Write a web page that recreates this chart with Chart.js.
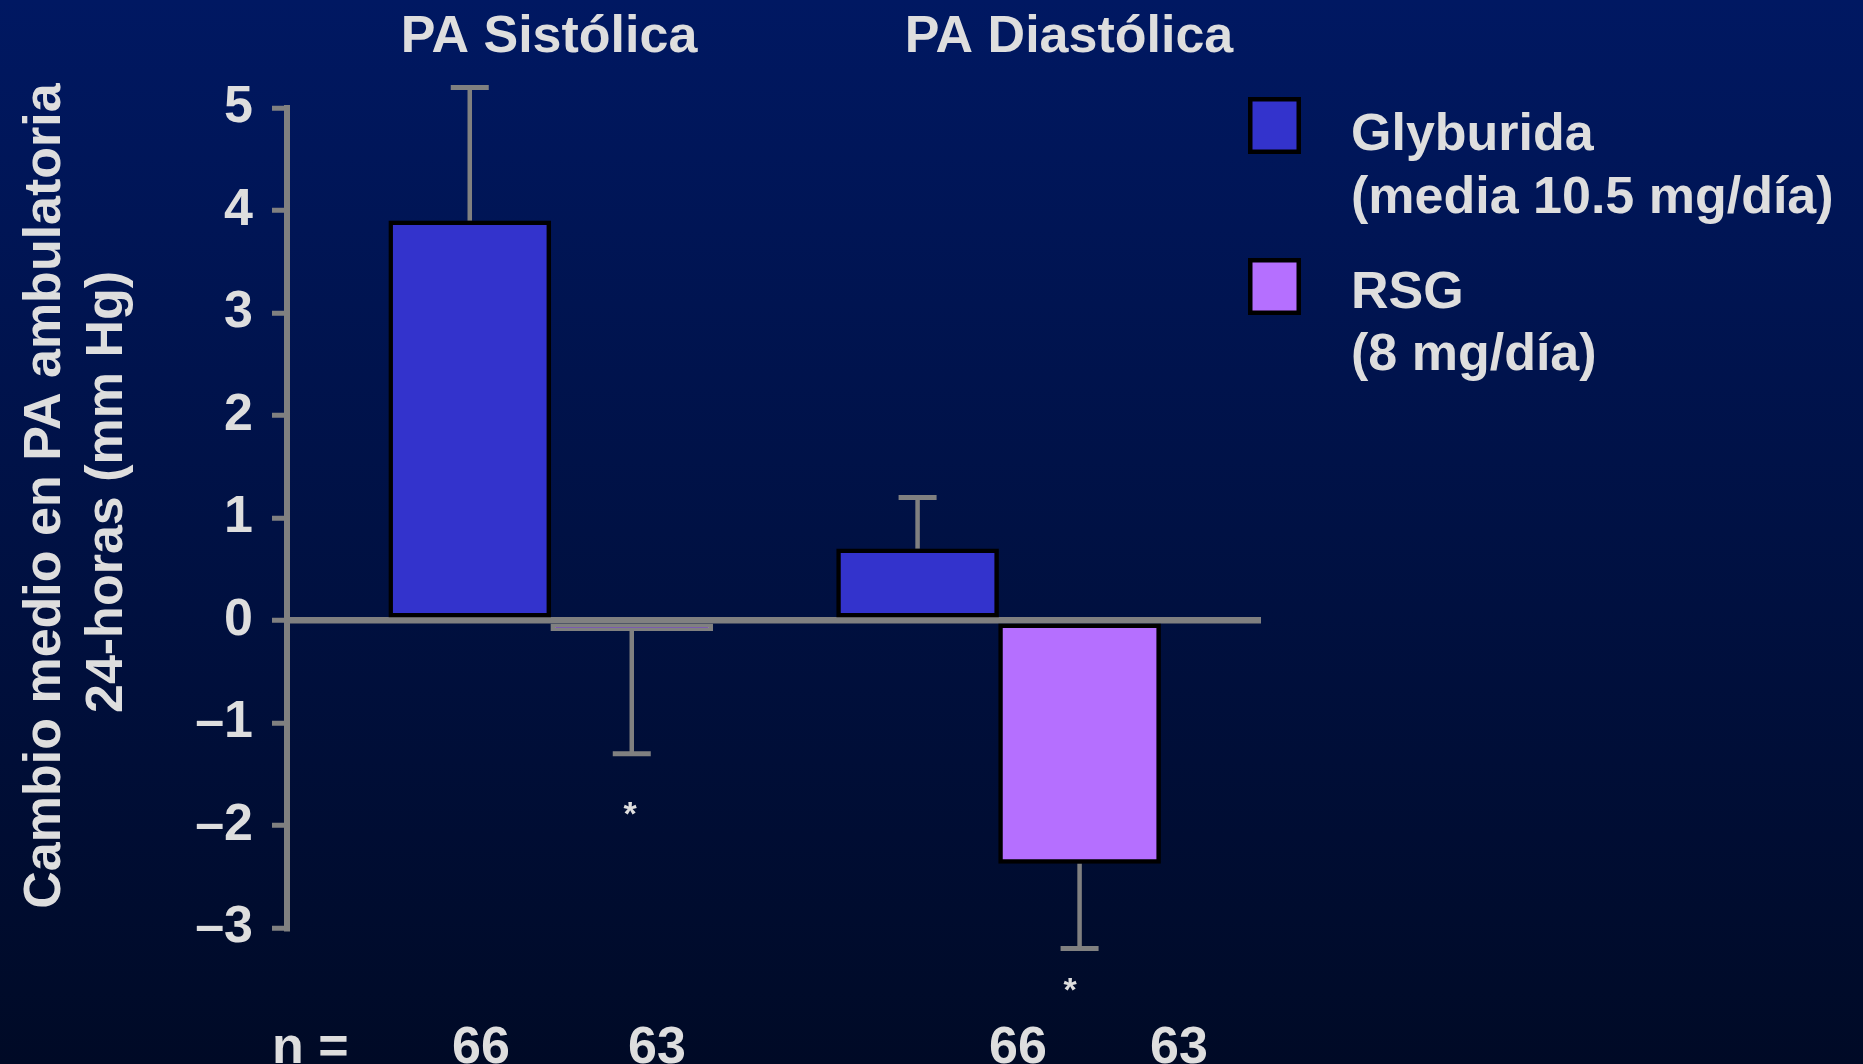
<!DOCTYPE html>
<html>
<head>
<meta charset="utf-8">
<script src="https://cdn.jsdelivr.net/npm/chart.js@4"></script>
<style>
  html, body { margin: 0; padding: 0; background: #000c30; }
  #wrap { width: 1863px; height: 1064px; }
</style>
</head>
<body>
<div id="wrap"><canvas id="c" width="1863" height="1064"></canvas></div>
<script>
// ---- data ----
const categories = ['PA Sistólica', 'PA Diastólica'];
const seriesNames = ['Glyburida', 'RSG'];
const seriesSub = ['(media 10.5 mg/día)', '(8 mg/día)'];
const glyburida = [3.9, 0.7];
const rsg = [-0.1, -2.37];
const glyburidaErr = [5.2, 1.2];
const rsgErr = [-1.3, -3.2];
const nGlyburida = [66, 66];
const nRsg = [63, 63];
const yMin = -3, yMax = 5, yStep = 1;

const FONT = '"Liberation Sans", Arial, sans-serif';
const TEXT = '#dedede';
const GRAY = '#808080';
const BLUE = '#3333cc';
const PURPLE = '#b56fff';

const bgPlugin = {
  id: 'bg',
  beforeDraw(chart) {
    const ctx = chart.ctx;
    const g = ctx.createLinearGradient(0, 0, 0, chart.height);
    g.addColorStop(0, '#001862');
    g.addColorStop(1, '#000a26');
    ctx.save();
    ctx.fillStyle = g;
    ctx.fillRect(0, 0, chart.width, chart.height);
    ctx.restore();
  }
};

const errPlugin = {
  id: 'errbars',
  beforeDatasetsDraw(chart) {
    const ctx = chart.ctx;
    const y = chart.scales.y;
    const errs = [glyburidaErr, rsgErr];
    ctx.save();
    ctx.strokeStyle = GRAY;
    chart.data.datasets.forEach((ds, di) => {
      const meta = chart.getDatasetMeta(di);
      meta.data.forEach((bar, i) => {
        const x = bar.x;
        const y0 = y.getPixelForValue(ds.data[i].y);
        const y1 = y.getPixelForValue(errs[di][i]);
        ctx.lineWidth = 4.5;
        ctx.beginPath(); ctx.moveTo(x, y0); ctx.lineTo(x, y1); ctx.stroke();
        ctx.lineWidth = 5;
        ctx.beginPath(); ctx.moveTo(x - 19, y1); ctx.lineTo(x + 19, y1); ctx.stroke();
      });
    });
    ctx.restore();
  }
};

const textPlugin = {
  id: 'texts',
  afterDraw(chart) {
    const ctx = chart.ctx;
    ctx.save();
    ctx.fillStyle = TEXT;
    ctx.font = 'bold 52px ' + FONT;
    ctx.textBaseline = 'alphabetic';

    // group titles
    ctx.textAlign = 'center';
    ctx.fillText(categories[0], 549, 52);
    ctx.fillText(categories[1], 1069, 52);

    // y-axis title (rotated, two lines)
    ctx.save();
    ctx.translate(60, 496);
    ctx.rotate(-Math.PI / 2);
    ctx.fillText('Cambio medio en PA ambulatoria', 0, 0);
    ctx.restore();
    ctx.save();
    ctx.translate(122, 492);
    ctx.rotate(-Math.PI / 2);
    ctx.fillText('24-horas (mm Hg)', 0, 0);
    ctx.restore();

    // n = row
    ctx.textAlign = 'left';
    ctx.fillText('n =', 272, 1063);
    ctx.textAlign = 'center';
    ctx.fillText(String(nGlyburida[0]), 481, 1063);
    ctx.fillText(String(nRsg[0]), 657, 1063);
    ctx.fillText(String(nGlyburida[1]), 1018, 1063);
    ctx.fillText(String(nRsg[1]), 1179, 1063);

    // significance asterisks
    ctx.font = 'bold 34px ' + FONT;
    ctx.fillText('*', 630, 825);
    ctx.fillText('*', 1070, 1001);

    // legend
    const boxes = [[1248, 97, BLUE], [1248, 258, PURPLE]];
    const lines = [[150, 213], [308, 370]];
    boxes.forEach((b, i) => {
      ctx.fillStyle = b[2];
      ctx.fillRect(b[0], b[1], 53, 57);
      ctx.strokeStyle = '#000000';
      ctx.lineWidth = 4.5;
      ctx.strokeRect(b[0] + 2.25, b[1] + 2.25, 53 - 4.5, 57 - 4.5);
      ctx.fillStyle = TEXT;
      ctx.font = 'bold 52px ' + FONT;
      ctx.textAlign = 'left';
      ctx.fillText(seriesNames[i], 1351, lines[i][0]);
      ctx.fillText(seriesSub[i], 1351, lines[i][1]);
    });
    ctx.restore();
  }
};

const toPts = arr => arr.map((v, i) => ({ x: i, y: v }));

new Chart(document.getElementById('c'), {
  type: 'bar',
  data: {
    datasets: [
      {
        label: seriesNames[0],
        data: toPts(glyburida),
        backgroundColor: BLUE,
        borderColor: '#000000',
        borderWidth: 4.5,
        borderSkipped: false,
        barThickness: 162
      },
      {
        label: seriesNames[1],
        data: toPts(rsg),
        backgroundColor: PURPLE,
        borderColor: [GRAY, '#000000'],
        borderWidth: 4.5,
        borderSkipped: false,
        barThickness: 162
      }
    ]
  },
  options: {
    responsive: false,
    animation: false,
    events: [],
    layout: { padding: { left: 0, right: 602, top: 108, bottom: 136 } },
    plugins: { legend: { display: false }, tooltip: { enabled: false }, title: { display: false } },
    scales: {
      x: {
        type: 'linear',
        display: false,
        offset: false,
        min: -0.589,
        max: 1.586
      },
      y: {
        min: yMin,
        max: yMax,
        afterFit(scale) { scale.width = 287; },
        border: { display: true, color: GRAY, width: 6 },
        grid: {
          drawOnChartArea: true,
          color: c => (c.tick && c.tick.value === 0) ? GRAY : 'rgba(0,0,0,0)',
          lineWidth: 6.5,
          tickColor: GRAY,
          tickWidth: 5,
          tickLength: 15
        },
        ticks: {
          stepSize: yStep,
          padding: 19,
          color: TEXT,
          font: { family: FONT, size: 52, weight: 'bold' },
          callback: v => (v < 0 ? '\u2013' + Math.abs(v) : String(v))
        }
      }
    }
  },
  plugins: [bgPlugin, errPlugin, textPlugin]
});
</script>
</body>
</html>
